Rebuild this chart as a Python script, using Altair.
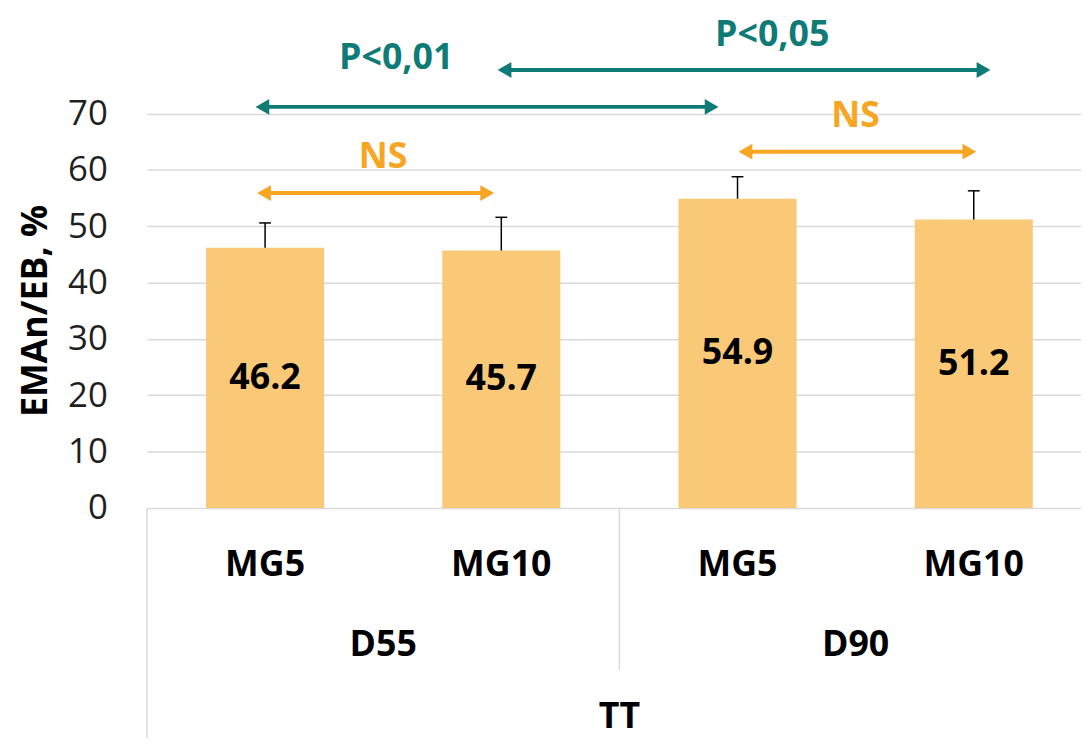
import altair as alt
import pandas as pd

# ---------------- data ----------------
groups = ["D55", "D55", "D90", "D90"]
doses = ["MG5", "MG10", "MG5", "MG10"]
values = [46.2, 45.7, 54.9, 51.2]
errors = [4.4, 5.9, 3.9, 5.1]
outer_label = "TT"
y_ticks = [0, 10, 20, 30, 40, 50, 60, 70]

# significance annotations (x in category units, y in data units)
ann_labels = ["NS", "NS", "P<0,01", "P<0,05"]
ann_kind = ["ns", "ns", "sig", "sig"]
ann_start = [0.457, 2.495, 0.45, 1.475]
ann_end = [1.479, 3.52, 2.429, 3.58]
ann_line_y = [55.9, 63.25, 71.2, 77.75]
ann_text_x = [1.0, 3.0, 1.055, 2.647]
ann_text_y = [62.3, 69.6, 79.8, 83.9]

# ---------------- style ----------------
FONT = "Open Sans"
BAR = "#FAC978"
TEAL = "#0E7B77"
ORANGE = "#F6A623"
GRID = "#D9D9D9"
X_MAX = 3.954
Y_MAX = 88.27

n = len(values)
bars = pd.DataFrame({"group": groups, "dose": doses, "value": values, "err": errors})
bars["pos"] = [i + 0.5 for i in range(n)]
bars["lo"] = bars["pos"] - 0.25
bars["hi"] = bars["pos"] + 0.25
bars["top"] = bars["value"] + bars["err"]
bars["mid"] = bars["value"] / 2
bars["cap_lo"] = bars["pos"] - 0.025
bars["cap_hi"] = bars["pos"] + 0.025
bars["label"] = bars["value"].map(lambda v: f"{v:.1f}")
bars["zero"] = 0.0

grp = bars.groupby("group", sort=False)["pos"].agg(["mean", "min"]).reset_index()
grp["edge"] = grp["min"] - 0.5
grp["zero"] = 0.0
outer = pd.DataFrame({"label": [outer_label], "pos": [bars["pos"].mean()], "zero": [0.0]})

ann = pd.DataFrame({
    "label": ann_labels,
    "color": [ORANGE if k == "ns" else TEAL for k in ann_kind],
    "x0": ann_start, "x1": ann_end, "ly": ann_line_y,
    "tx": ann_text_x, "ty": ann_text_y,
})

xs = alt.Scale(domain=[0, X_MAX], nice=False, zero=False)
ys = alt.Scale(domain=[0, Y_MAX], nice=False)

yaxis = alt.Axis(
    values=y_ticks, title="EMAn/EB, %", grid=True, gridColor=GRID, gridWidth=1.5,
    domain=False, ticks=False, labelFont=FONT, labelFontSize=35, labelColor="#1f1f1f",
    labelPadding=40, titleFont=FONT, titleFontSize=36, titleFontWeight="bold",
    titleColor="black", titleAngle=270, titleBaseline="alphabetic", titleX=-101, titleY=302,
)


def X(field):
    return alt.X(field, scale=xs, axis=None)


def Y(field):
    return alt.Y(field, scale=ys, axis=yaxis)


base = alt.Chart(bars)

bar_layer = base.mark_bar(color=BAR).encode(
    x=X("lo:Q"), x2="hi", y=Y("value:Q"), y2="zero",
)

err_rule = base.mark_rule(color="black", strokeWidth=1.5).encode(
    x=X("pos:Q"), y=Y("value:Q"), y2="top"
)
err_cap = base.mark_rule(color="black", strokeWidth=1.5).encode(
    x=X("cap_lo:Q"), x2="cap_hi", y=Y("top:Q")
)

bar_text = base.mark_text(font=FONT, fontSize=36, fontWeight="bold", color="black",
                          baseline="middle").encode(
    x=X("pos:Q"), y=Y("mid:Q"), text="label:N"
)

dose_text = base.mark_text(font=FONT, fontSize=36, fontWeight="bold", color="black",
                           baseline="middle", dy=57).encode(
    x=X("pos:Q"), y=Y("zero:Q"), text="dose:N"
)

group_text = alt.Chart(grp).mark_text(font=FONT, fontSize=36, fontWeight="bold", color="black",
                                      baseline="middle", dy=138).encode(
    x=X("mean:Q"), y=Y("zero:Q"), text="group:N"
)

outer_text = alt.Chart(outer).mark_text(font=FONT, fontSize=36, fontWeight="bold", color="black",
                                        baseline="middle", dy=211).encode(
    x=X("pos:Q"), y=Y("zero:Q"), text="label:N"
)

left_edge = alt.Chart(grp.iloc[[0]]).mark_rule(color=GRID, strokeWidth=1.5).encode(
    x=X("edge:Q"), y=Y("zero:Q"), y2=alt.value(733)
)
divider = alt.Chart(grp.iloc[1:]).mark_rule(color=GRID, strokeWidth=1.5).encode(
    x=X("edge:Q"), y=Y("zero:Q"), y2=alt.value(664)
)

annb = alt.Chart(ann)
ann_line = annb.mark_rule(strokeWidth=4, xOffset=8, x2Offset=-8).encode(
    x=X("x0:Q"), x2="x1", y=Y("ly:Q"),
    color=alt.Color("color:N", scale=None),
)
head_l = annb.mark_point(shape="triangle-left", filled=True, size=256, opacity=1,
                         xOffset=9.2).encode(
    x=X("x0:Q"), y=Y("ly:Q"),
    color=alt.Color("color:N", scale=None),
)
head_r = annb.mark_point(shape="triangle-right", filled=True, size=256, opacity=1,
                         xOffset=-9.2).encode(
    x=X("x1:Q"), y=Y("ly:Q"),
    color=alt.Color("color:N", scale=None),
)
ann_text = annb.mark_text(font=FONT, fontSize=36, fontWeight="bold", baseline="middle").encode(
    x=X("tx:Q"), y=Y("ty:Q"), text="label:N",
    color=alt.Color("color:N", scale=None),
)

chart = alt.layer(
    bar_layer, err_rule, err_cap, bar_text, dose_text, group_text, outer_text,
    left_edge, divider, ann_line, head_l, head_r, ann_text,
).properties(
    width=941, height=501,
    autosize=alt.AutoSizeParams(type="none"),
    padding={"left": 140, "top": 0, "right": 0, "bottom": 232},
    background="white",
).configure(font=FONT).configure_view(stroke=None)

chart.save("out.html", embed_options={"renderer": "svg", "actions": False})
